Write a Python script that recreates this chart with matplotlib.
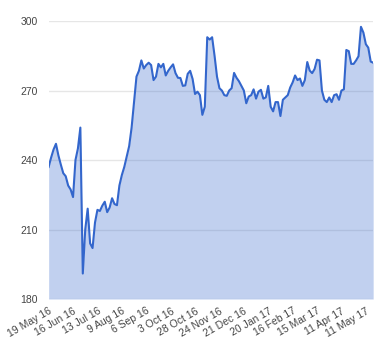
import matplotlib
matplotlib.use("Agg")
import matplotlib.pyplot as plt
import numpy as np

plt.rcParams['font.family'] = ['Liberation Sans', 'DejaVu Sans']

# closing price, sampled about every second trading day
prices = [
    237, 241, 244.5, 247, 242, 238, 234.3, 233, 229, 227.3,
    224, 240, 245, 254, 191, 210, 219, 204, 202, 213,
    218.5, 218, 220.3, 222, 217.5, 219.5, 223.5, 221, 220.5, 229,
    233.5, 237, 241.4, 246, 254, 265, 276, 278.5, 283, 279.5,
    281, 282, 281, 274.5, 276, 281.5, 280, 281.5, 276.5, 278.5,
    280, 281.3, 277.5, 275.5, 275.4, 272, 272.2, 277.2, 278.5, 275,
    268.5, 269.5, 268, 259.5, 263, 293, 292, 293, 285, 276,
    271, 270, 268, 267.7, 270, 271, 277.6, 275.5, 274, 272,
    270, 264.5, 267.4, 268, 270.5, 266.5, 269.5, 270.3, 266.5, 267,
    272, 263, 261, 265, 265, 259, 266, 267, 268, 271.3,
    273.5, 276.5, 274.5, 275.2, 272, 274.5, 282.3, 278.6, 277.5, 279.3,
    283.3, 283, 270, 266, 265, 267, 265, 268, 268.4, 266,
    270, 270.5, 287.5, 287, 281.5, 281.5, 283, 284.8, 297.5, 295,
    290, 288.5, 282.5, 282,
]
tick_labels = ['19 May 16', '16 Jun 16', '13 Jul 16', '9 Aug 16', '6 Sep 16',
               '3 Oct 16', '28 Oct 16', '24 Nov 16', '21 Dec 16', '20 Jan 17',
               '16 Feb 17', '15 Mar 17', '11 Apr 17', '11 May 17']
y_ticks = [180, 210, 240, 270, 300]

x = np.arange(len(prices))

fig = plt.figure(figsize=(3.8, 3.6), dpi=100)
ax = fig.add_axes([0.128, 0.1694, 0.854, 0.7722])

ax.fill_between(x, prices, 180, color='#3366cc', alpha=0.3, linewidth=0)
ax.plot(x, prices, color='#3366cc', linewidth=1.5)

ax.set_xlim(0, len(prices) - 1)
ax.set_ylim(180, 300)
ax.set_yticks(y_ticks)
ax.set_yticklabels([str(v) for v in y_ticks])
ax.set_xticks(x[::10])
ax.set_xticklabels(tick_labels, rotation=30, ha='right', rotation_mode='anchor')

ax.grid(axis='y', color='#e6e6e6', linewidth=1)
ax.set_axisbelow(True)
for s in ax.spines.values():
    s.set_visible(False)
ax.tick_params(axis='y', length=0, pad=8, labelsize=7.5, labelcolor='#444444')
ax.tick_params(axis='x', length=0, pad=5, labelsize=7.5, labelcolor='#444444')

fig.savefig('out.png', dpi=100)
